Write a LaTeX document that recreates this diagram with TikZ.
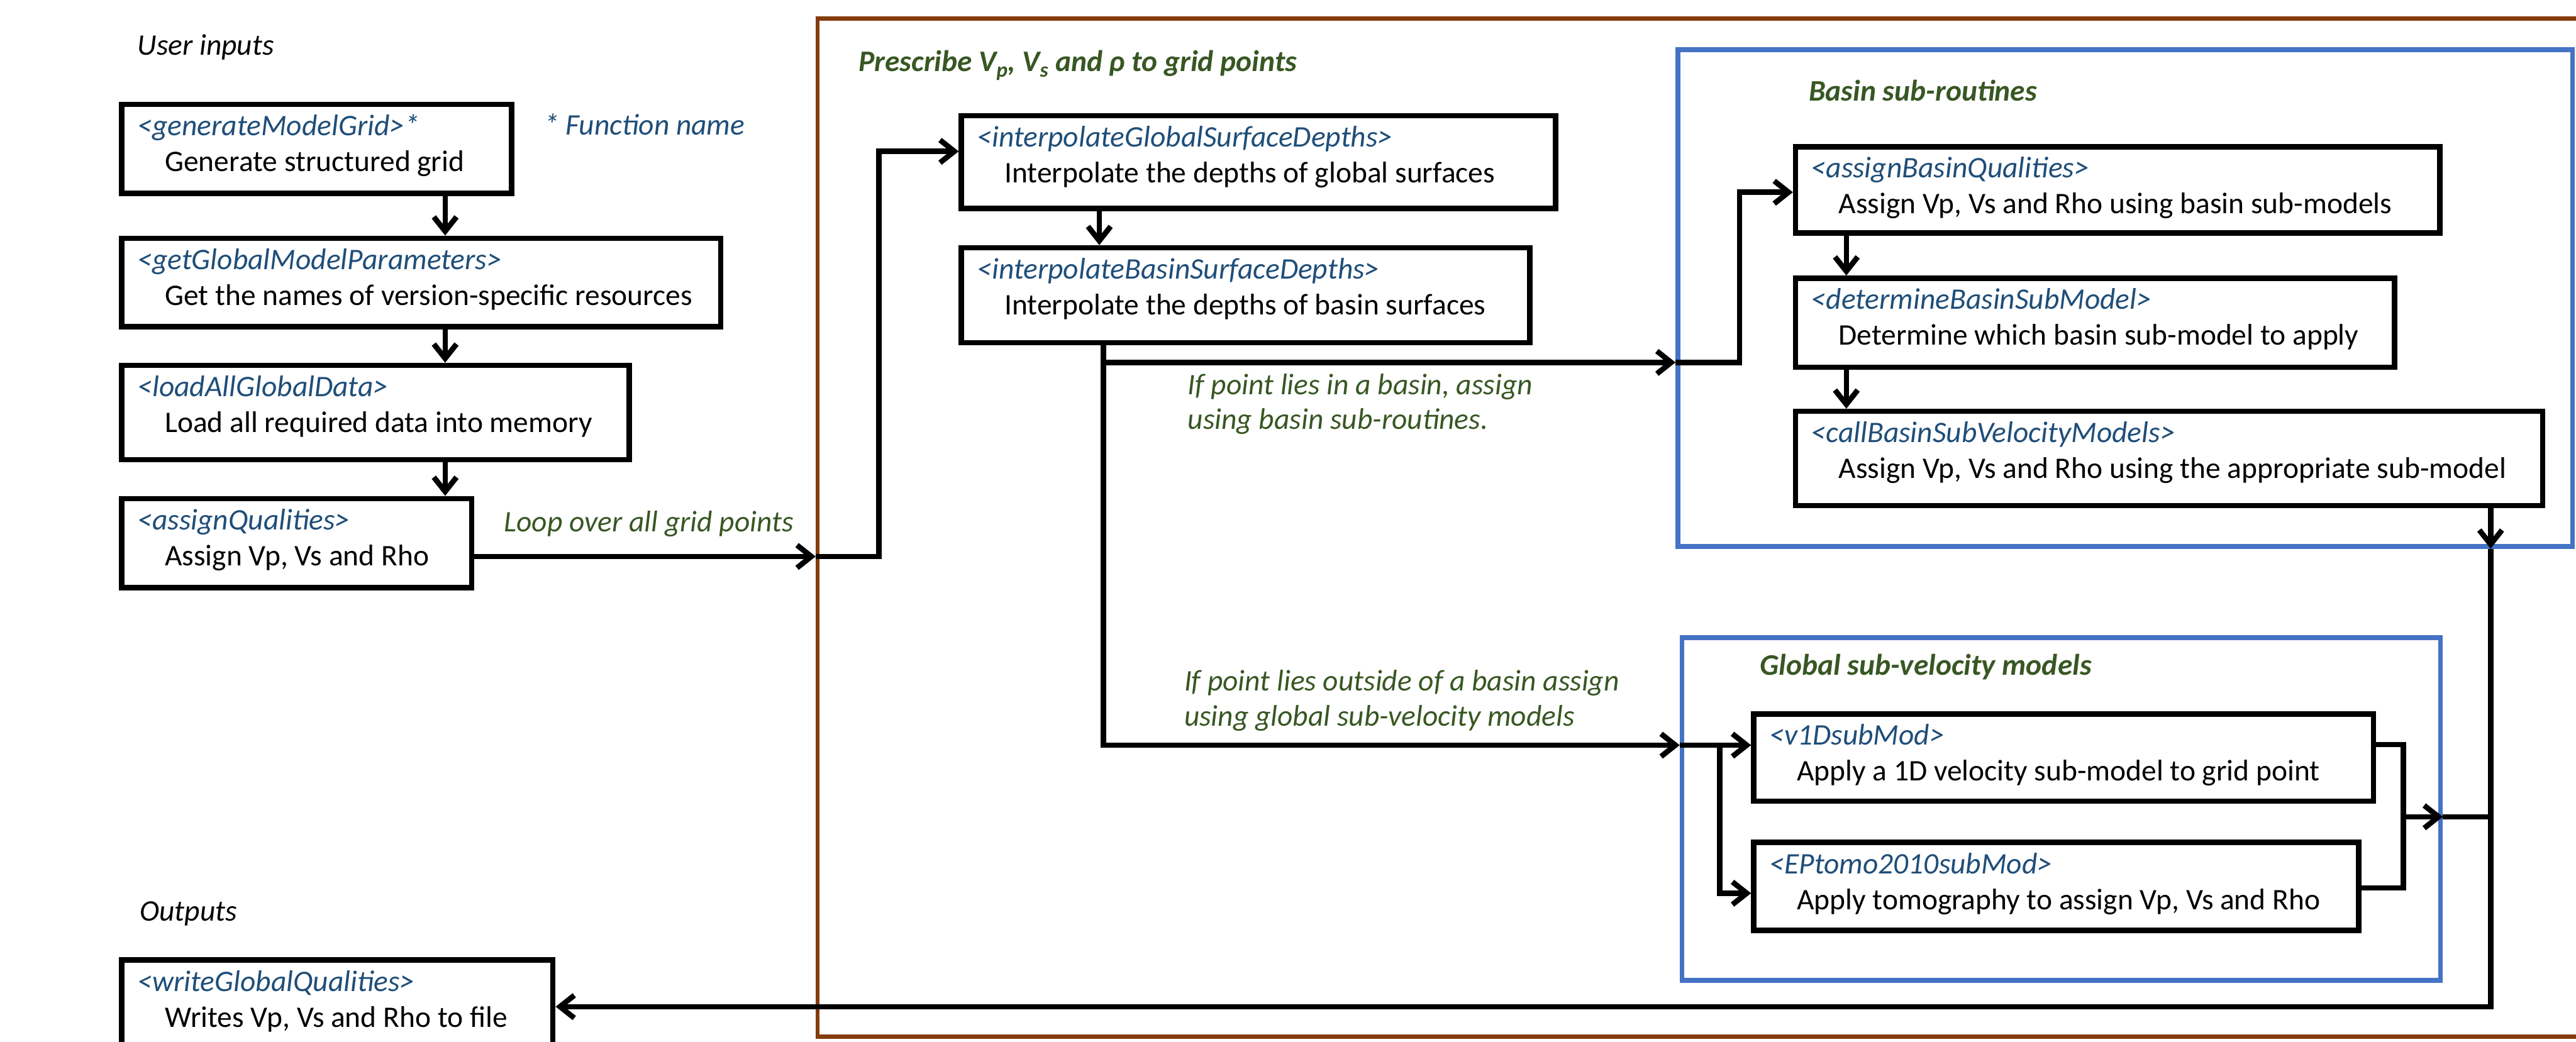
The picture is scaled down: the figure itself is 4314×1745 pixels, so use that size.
\documentclass[tikz,border=0pt]{standalone}
\usepackage{fontspec}
\setmainfont{Carlito}
\usetikzlibrary{arrows.meta,calc,fit}
\definecolor{brownc}{HTML}{843C0C}
\definecolor{bluec}{HTML}{4472C4}
\definecolor{ttlc}{HTML}{1F4E79}
\definecolor{grn}{HTML}{385723}
\tikzset{
 pbox/.style={draw=black, line width=9pt, inner sep=0pt, rectangle},
 ttl/.style={font=\fontsize{50}{60}\selectfont\itshape, text=ttlc, inner sep=0pt, anchor=base west},
 bod/.style={font=\fontsize{50}{60}\selectfont, text=black, inner sep=0pt, anchor=base west},
 lbl/.style={font=\fontsize{50}{60}\selectfont\itshape, text=grn, inner sep=0pt, anchor=base west},
 hdr/.style={font=\fontsize{50}{60}\selectfont\bfseries\itshape, text=grn, inner sep=0pt, anchor=base west},
 note/.style={font=\fontsize{50}{60}\selectfont\itshape, text=black, inner sep=0pt, anchor=base west},
 conn/.style={line width=9pt, draw=black},
 arr/.style={conn, -{Straight Barb[length=24pt,width=38pt]}},
}
\newcommand\procbox[5]{%
 \node[pbox, fit={(#2) (#3)}] (#1) {};
 \node[ttl] (#1-t) at ($(#2)+(26,52)$) {#4};
 \node[bod] (#1-b) at ($(#2)+(72,112)$) {#5};}
\begin{document}
\begin{tikzpicture}[x=1pt,y=-1pt]
\useasboundingbox (0,0) rectangle (4314,1745);
\clip (0,0) rectangle (4314,1745);
% frames
\node[draw=brownc, line width=7pt, inner sep=0pt, fit={(1369,31) (4340,1736)}] (frame) {};
\node[draw=bluec, line width=8pt, inner sep=0pt, fit={(2810,83) (4308,915)}] (basin) {};
\node[draw=bluec, line width=8pt, inner sep=0pt, fit={(2817,1068) (4087,1642)}] (glob) {};
% boxes
\procbox{b1}{204,175}{857,324}{<generateModelGrid>*}{Generate structured grid}
\procbox{b2}{204,399}{1207,547}{<getGlobalModelParameters>}{Get the names of version-specific resources}
\procbox{b3}{204,612}{1054,770}{<loadAllGlobalData>}{Load all required data into memory}
\procbox{b4}{204,835}{790,984}{<assignQualities>}{Assign Vp, Vs and Rho}
\procbox{w}{204,1608}{926,1790}{<writeGlobalQualities>}{Writes Vp, Vs and Rho to file}
\procbox{g1}{1610,194}{2605,349}{<interpolateGlobalSurfaceDepths>}{Interpolate the depths of global surfaces}
\procbox{g2}{1610,415}{2562,574}{<interpolateBasinSurfaceDepths>}{Interpolate the depths of basin surfaces}
\procbox{ba1}{3007,246}{4086,390}{<assignBasinQualities>}{Assign Vp, Vs and Rho using basin sub-models}
\procbox{ba2}{3007,466}{4010,615}{<determineBasinSubModel>}{Determine which basin sub-model to apply}
\procbox{ba3}{3007,689}{4258,847}{<callBasinSubVelocityModels>}{Assign Vp, Vs and Rho using the appropriate sub-model}
\procbox{v1}{2937,1196}{3975,1342}{<v1DsubMod>}{Apply a 1D velocity sub-model to grid point}
\procbox{ep}{2937,1411}{3950,1558}{<EPtomo2010subMod>}{Apply tomography to assign Vp, Vs and Rho}
% labels
\node[note] (ui) at (230,92) {User inputs};
\node[ttl] (fn) at (911,226) {* Function name};
\node[note] (out) at (234,1542) {Outputs};
\node[lbl] (loop) at (844,890) {Loop over all grid points};
\node[hdr] (pres) at (1438,120) {Prescribe V\textsubscript{p}, V\textsubscript{s} and ρ to grid points};
\node[lbl] (l1a) at (1989,661) {If point lies in a basin, assign};
\node[lbl] (l1b) at (1989,719) {using basin sub-routines.};
\node[hdr] (bsr) at (3029,169) {Basin sub-routines};
\node[lbl] (l2a) at (1983,1157) {If point lies outside of a basin assign};
\node[lbl] (l2b) at (1983,1216) {using global sub-velocity models};
\node[hdr] (gsv) at (2947,1131) {Global sub-velocity models};
% connectors
\coordinate (loopin) at (1366,932);
\coordinate (bin) at (2806,607);
\coordinate (gin) at (2813,1248);
\coordinate (bout) at (4171,919);
\coordinate (ret) at (4171,1686);
\coordinate (gout) at (4091,1368);
\draw[arr] ($(b1.south west)+(546,0)$) -- ($(b2.north west)+(546,0)$);
\draw[arr] ($(b2.south west)+(546,0)$) -- ($(b3.north west)+(546,0)$);
\draw[arr] ($(b3.south west)+(546,0)$) -- ($(b4.north west)+(546,0)$);
\draw[arr] (b4.east |- loopin) -- (loopin);
\draw[arr] (loopin) -- ++(106,0) |- ($(g1.north west)+(0,64)$);
\draw[arr] ($(g1.south west)+(235.5,0)$) -- ($(g2.north west)+(235.5,0)$);
\draw[arr] ($(g2.south west)+(242.5,0)$) |- (bin);
\draw[arr] ($(g2.south west)+(242.5,0)$) |- (gin);
\draw[arr] (bin) -- ++(107,0) |- ($(ba1.north west)+(0,80.5)$);
\draw[arr] ($(ba1.south west)+(89.5,0)$) -- ($(ba2.north west)+(89.5,0)$);
\draw[arr] ($(ba2.south west)+(89.5,0)$) -- ($(ba3.north west)+(89.5,0)$);
\draw[arr] ($(ba3.south west)+(1168.5,0)$) -- (bout);
\draw[arr] (bout) -- (ret) -- (w.east |- ret);
\draw[arr] (gin) -- (v1.west |- gin);
\draw[arr] (gin) -- ++(67,0) |- ($(ep.north west)+(0,89.5)$);
\draw[conn] ($(v1.north east)+(0,55.5)$) -| ($(ep.north east)+(70.5,80.5)$) -- ($(ep.north east)+(0,80.5)$);
\draw[arr] ($(ep.north east)+(70.5,-38.5)$) -- (gout);
\draw[conn] (gout) -- (bout |- gout);
\end{tikzpicture}
\end{document}
